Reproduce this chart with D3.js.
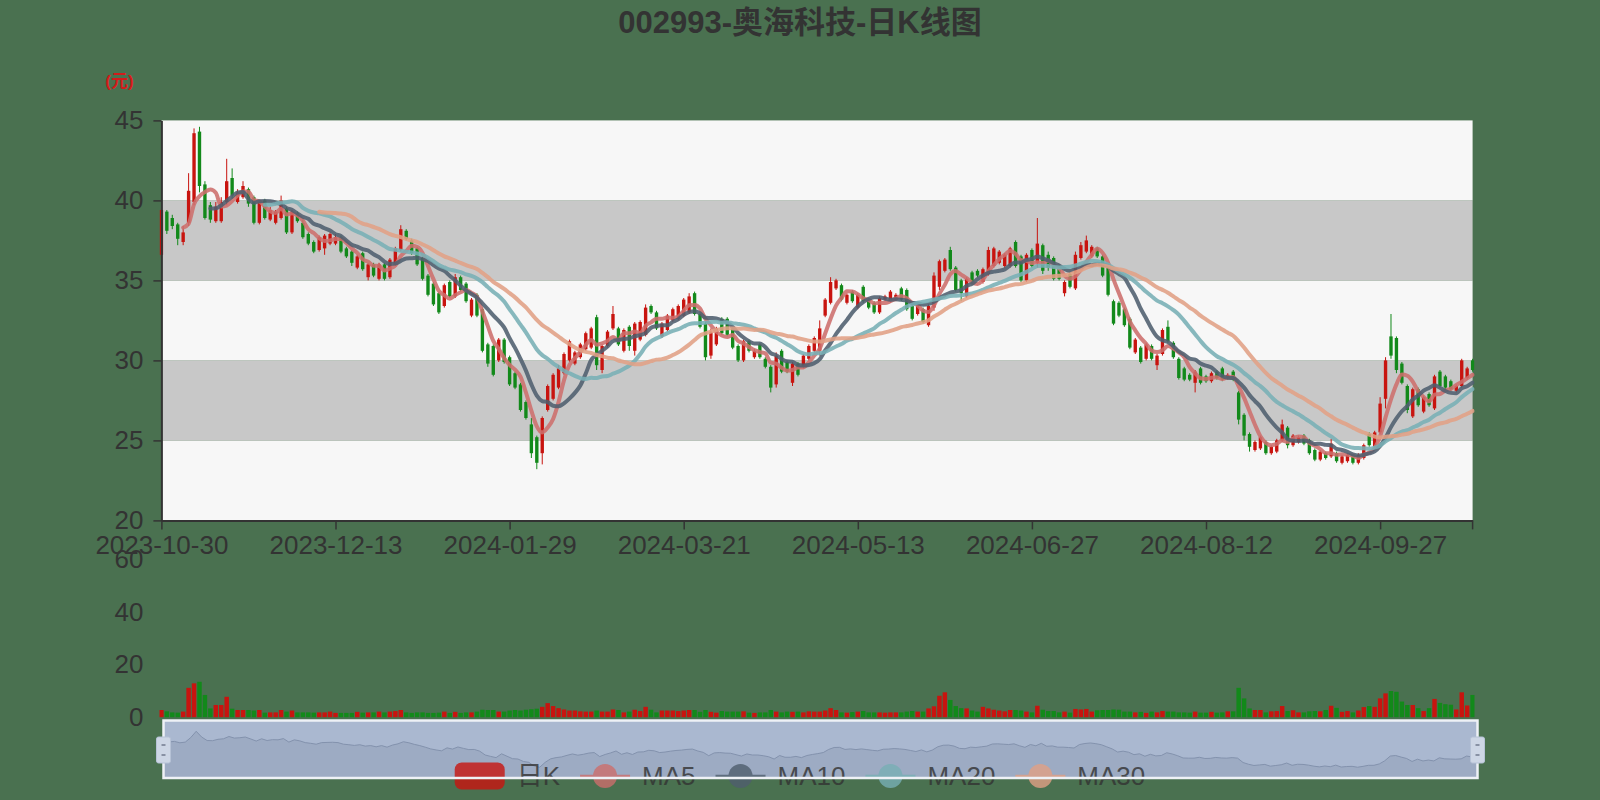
<!DOCTYPE html>
<html><head><meta charset="utf-8">
<script src="https://cdn.jsdelivr.net/npm/d3@7"></script>
<style>html,body{margin:0;padding:0;background:#4a7150}svg{display:block}</style>
</head><body>
<svg id="c" width="1600" height="800"></svg>
<script>
// ---------------- data ----------------
const title = '002993-奥海科技-日K线图';
const yUnit = '(元)';
const legendNames = ['日K', 'MA5', 'MA10', 'MA20', 'MA30'];
const maPeriods = [5, 10, 20, 30];
const priceTicks = [20, 25, 30, 35, 40, 45];
const volTicks = [0, 20, 40, 60];
const xLabelEvery = 32;

const dates = [
'2023-10-30','2023-10-31',
'2023-11-01','2023-11-02','2023-11-03','2023-11-06','2023-11-07','2023-11-08','2023-11-09','2023-11-10','2023-11-13','2023-11-14','2023-11-15','2023-11-16','2023-11-17','2023-11-20','2023-11-21','2023-11-22','2023-11-23','2023-11-24','2023-11-27','2023-11-28','2023-11-29','2023-11-30',
'2023-12-01','2023-12-04','2023-12-05','2023-12-06','2023-12-07','2023-12-08','2023-12-11','2023-12-12','2023-12-13','2023-12-14','2023-12-15','2023-12-18','2023-12-19','2023-12-20','2023-12-21','2023-12-22','2023-12-25','2023-12-26','2023-12-27','2023-12-28','2023-12-29',
'2024-01-02','2024-01-03','2024-01-04','2024-01-05','2024-01-08','2024-01-09','2024-01-10','2024-01-11','2024-01-12','2024-01-15','2024-01-16','2024-01-17','2024-01-18','2024-01-19','2024-01-22','2024-01-23','2024-01-24','2024-01-25','2024-01-26','2024-01-29','2024-01-30','2024-01-31',
'2024-02-01','2024-02-02','2024-02-05','2024-02-06','2024-02-07','2024-02-08','2024-02-19','2024-02-20','2024-02-21','2024-02-22','2024-02-23','2024-02-26','2024-02-27','2024-02-28','2024-02-29',
'2024-03-01','2024-03-04','2024-03-05','2024-03-06','2024-03-07','2024-03-08','2024-03-11','2024-03-12','2024-03-13','2024-03-14','2024-03-15','2024-03-18','2024-03-19','2024-03-20','2024-03-21','2024-03-22','2024-03-25','2024-03-26','2024-03-27','2024-03-28','2024-03-29',
'2024-04-01','2024-04-02','2024-04-03','2024-04-08','2024-04-09','2024-04-10','2024-04-11','2024-04-12','2024-04-15','2024-04-16','2024-04-17','2024-04-18','2024-04-19','2024-04-22','2024-04-23','2024-04-24','2024-04-25','2024-04-26','2024-04-29','2024-04-30',
'2024-05-06','2024-05-07','2024-05-08','2024-05-09','2024-05-10','2024-05-13','2024-05-14','2024-05-15','2024-05-16','2024-05-17','2024-05-20','2024-05-21','2024-05-22','2024-05-23','2024-05-24','2024-05-27','2024-05-28','2024-05-29','2024-05-30','2024-05-31',
'2024-06-03','2024-06-04','2024-06-05','2024-06-06','2024-06-07','2024-06-11','2024-06-12','2024-06-13','2024-06-14','2024-06-17','2024-06-18','2024-06-19','2024-06-20','2024-06-21','2024-06-24','2024-06-25','2024-06-26','2024-06-27','2024-06-28',
'2024-07-01','2024-07-02','2024-07-03','2024-07-04','2024-07-05','2024-07-08','2024-07-09','2024-07-10','2024-07-11','2024-07-12','2024-07-15','2024-07-16','2024-07-17','2024-07-18','2024-07-19','2024-07-22','2024-07-23','2024-07-24','2024-07-25','2024-07-26','2024-07-29','2024-07-30','2024-07-31',
'2024-08-01','2024-08-02','2024-08-05','2024-08-06','2024-08-07','2024-08-08','2024-08-09','2024-08-12','2024-08-13','2024-08-14','2024-08-15','2024-08-16','2024-08-19','2024-08-20','2024-08-21','2024-08-22','2024-08-23','2024-08-26','2024-08-27','2024-08-28','2024-08-29','2024-08-30',
'2024-09-02','2024-09-03','2024-09-04','2024-09-05','2024-09-06','2024-09-09','2024-09-10','2024-09-11','2024-09-12','2024-09-13','2024-09-18','2024-09-19','2024-09-20','2024-09-23','2024-09-24','2024-09-25','2024-09-26','2024-09-27','2024-09-30',
'2024-10-08','2024-10-09','2024-10-10','2024-10-11','2024-10-14','2024-10-15','2024-10-16','2024-10-17','2024-10-18','2024-10-21','2024-10-22','2024-10-23','2024-10-24','2024-10-25','2024-10-28','2024-10-29'
];

const openP = [
36.6,39.3,38.9,38.5,37.4,38.6,39.9,44.3,41.0,39.7,
38.7,38.7,39.9,41.4,39.9,40.2,40.7,40.2,38.6,40.0,
38.8,38.6,38.9,39.5,38.0,39.2,38.6,37.9,37.4,36.9,
37.0,37.3,37.3,37.7,37.0,36.8,35.8,36.7,35.2,36.0,
35.1,36.0,35.2,36.0,36.9,38.1,37.5,37.0,36.4,35.3,
34.8,34.2,33.4,34.9,34.0,35.2,34.8,32.8,34.1,33.2,
31.0,30.9,30.0,31.3,30.2,29.2,28.5,27.4,26.0,25.2,
24.2,26.9,27.6,28.3,29.2,30.0,29.8,30.2,30.7,30.8,
32.7,29.4,30.9,32.0,32.0,30.6,32.1,30.6,31.3,31.6,
33.4,33.0,31.5,31.9,32.5,32.6,32.8,33.0,34.2,32.9,
32.3,30.3,31.0,32.6,32.6,32.0,30.9,30.0,31.2,30.2,
31.0,30.1,29.6,28.5,30.6,29.9,28.6,29.8,29.6,30.1,
30.6,30.6,32.8,33.6,34.5,34.7,33.6,34.3,33.3,34.6,
33.8,33.6,33.0,33.8,33.7,33.8,34.5,34.4,33.4,32.9,
33.2,32.2,33.3,34.6,35.6,36.9,35.8,35.0,34.0,35.5,
35.6,34.9,35.4,35.9,36.1,35.9,35.9,37.4,36.5,35.0,
36.9,36.1,37.2,36.6,36.4,35.9,34.2,35.4,34.5,36.4,
36.8,36.5,37.0,36.5,35.8,33.7,33.6,33.2,32.6,30.5,
30.8,30.1,30.9,29.7,30.4,32.1,31.1,30.1,29.5,29.1,
28.6,29.5,29.0,28.7,29.3,29.5,28.9,29.3,28.0,26.6,
25.4,24.4,24.5,24.9,24.2,24.3,25.0,25.8,24.7,24.9,
25.3,25.0,24.4,23.8,24.2,24.0,24.2,23.6,23.7,24.0,
23.6,23.9,25.4,24.6,25.5,27.6,31.5,31.4,29.8,28.4,
26.5,28.2,26.8,27.9,27.0,29.3,29.0,28.7,28.1,28.4,
28.9,30.0
];

const closeP = [
39.4,38.1,38.4,37.6,38.0,40.6,44.2,40.9,38.9,38.8,
39.6,39.9,41.2,40.3,40.5,40.9,39.8,38.6,39.9,38.9,
39.4,39.3,40.0,38.0,39.3,38.7,37.7,37.3,36.8,37.7,
37.8,37.9,37.7,36.8,36.5,36.1,36.5,35.7,36.0,35.3,
36.0,35.1,36.3,37.0,38.2,37.6,36.7,36.0,35.1,34.1,
33.5,33.0,34.7,34.0,35.2,34.4,33.7,33.8,32.8,30.6,
29.8,29.1,31.3,29.9,28.5,28.3,26.9,26.4,24.2,23.6,
26.4,28.4,29.1,29.5,30.4,31.2,30.5,31.0,31.7,32.0,
29.7,30.9,31.8,32.9,31.0,31.9,30.9,32.3,32.4,33.3,
33.0,32.0,32.3,32.8,33.2,33.4,33.8,34.0,32.9,32.1,
30.2,31.8,32.0,31.7,31.6,30.8,30.0,31.2,30.6,30.6,
30.2,29.6,28.3,30.3,29.3,29.3,29.8,29.1,30.3,30.9,
31.4,32.0,33.8,34.9,35.0,33.8,34.1,33.7,34.1,33.7,
33.3,33.0,33.9,34.0,34.3,34.1,33.8,33.2,32.6,33.5,
32.4,33.4,35.3,36.2,36.3,35.7,34.4,34.2,35.1,34.9,
35.3,35.7,36.9,37.0,36.8,36.6,37.0,35.9,35.0,36.6,
35.9,37.3,35.6,35.8,35.1,35.1,34.9,34.6,36.6,37.2,
37.5,37.1,36.5,35.3,34.1,32.3,32.8,32.2,30.8,31.3,
29.9,31.0,30.1,30.3,31.9,31.2,30.2,28.9,28.8,28.8,
29.3,28.6,28.7,29.2,28.9,28.8,29.1,28.8,26.3,25.3,
24.6,24.9,25.2,24.2,24.6,25.0,26.0,24.7,25.3,25.2,
24.8,24.2,23.8,24.3,23.9,24.8,23.7,24.0,24.1,23.6,
24.1,24.7,24.7,25.5,27.3,30.0,30.3,29.4,28.6,26.9,
28.2,27.2,27.7,27.2,29.0,28.4,28.3,28.2,28.4,30.0,
29.5,29.4
];

const highP = [
39.5,39.4,39.1,38.6,38.4,41.7,44.5,44.6,41.2,39.9,
39.9,40.2,42.6,42.0,40.7,41.2,40.8,40.3,40.0,40.1,
39.6,39.4,40.3,39.6,39.4,39.3,38.8,38.0,37.5,37.8,
37.9,38.0,37.9,37.8,37.1,36.9,36.6,36.8,36.1,36.1,
36.1,36.1,36.4,37.1,38.45,38.2,37.6,37.1,36.5,35.4,
34.9,34.3,34.8,35.0,35.4,35.3,34.9,33.9,34.2,33.3,
31.1,31.0,31.4,31.4,30.3,29.3,28.6,27.5,26.4,25.3,
26.5,28.5,29.2,29.7,30.5,31.3,30.6,31.1,31.8,32.1,
32.85,31.0,31.9,33.4,32.1,32.0,32.2,32.4,32.5,33.5,
33.5,33.1,32.4,32.9,33.3,33.5,33.9,34.2,34.3,33.0,
32.4,32.0,32.1,32.7,32.7,32.1,31.0,31.3,31.3,30.7,
31.1,30.2,29.7,30.5,30.7,30.0,29.9,29.9,30.4,31.0,
31.5,32.5,33.9,35.2,35.1,34.8,34.2,34.4,34.2,34.7,
33.9,33.7,34.0,34.1,34.4,34.2,34.6,34.5,33.5,33.6,
33.3,33.5,35.5,36.3,36.4,37.1,35.9,35.1,35.2,35.6,
35.7,35.8,37.1,37.1,36.9,36.7,37.1,37.5,36.6,36.7,
37.0,38.9,37.3,36.8,36.5,36.0,35.0,35.5,36.8,37.4,
37.8,37.2,37.1,36.6,35.9,33.8,33.7,33.3,32.7,31.4,
30.9,31.1,31.0,30.4,32.0,32.5,31.2,30.2,29.6,29.2,
29.4,29.6,29.1,29.3,29.4,29.6,29.2,29.4,28.1,26.7,
25.5,25.0,25.3,25.0,24.7,25.1,26.3,25.9,25.4,25.3,
25.4,25.1,24.5,24.4,24.3,25.1,24.3,24.1,24.2,24.1,
24.2,24.8,25.5,25.6,27.7,30.2,32.9,31.5,29.9,28.5,
28.3,28.3,27.8,28.0,29.1,29.4,29.1,28.8,28.5,30.1,
29.6,30.1
];

const lowP = [
36.4,37.9,38.2,37.2,37.2,38.4,39.7,40.5,38.8,38.6,
38.6,38.6,39.7,40.1,39.8,40.1,39.6,38.5,38.5,38.8,
38.7,38.5,38.8,37.9,37.9,38.6,37.6,37.2,36.7,36.8,
36.6,37.2,37.2,36.7,36.4,35.9,35.7,35.6,35.0,35.2,
35.0,35.0,35.1,35.9,36.8,37.5,36.6,35.9,35.0,34.0,
33.4,32.9,33.3,33.9,33.9,34.3,33.6,32.7,32.7,30.5,
29.6,29.0,29.9,29.8,28.4,28.2,26.8,26.3,23.9,23.2,
23.5,26.8,27.5,28.2,29.1,29.9,29.7,30.1,30.6,30.7,
29.4,29.2,30.8,31.9,30.9,30.5,30.6,30.3,31.2,31.5,
32.9,31.9,31.4,31.8,32.4,32.5,32.7,32.9,32.8,32.0,
30.0,30.1,30.9,31.6,31.5,30.7,29.9,29.9,30.5,30.1,
30.1,29.5,28.0,28.3,29.2,29.2,28.4,29.0,29.5,30.0,
30.5,30.3,32.7,33.5,34.4,33.7,33.5,33.6,33.2,33.6,
33.2,32.9,32.9,33.7,33.6,33.7,33.7,33.1,32.5,32.8,
32.3,32.1,33.1,34.4,35.5,35.6,34.3,33.7,33.9,34.8,
35.2,34.8,35.3,35.8,36.0,35.8,35.8,35.8,34.9,34.9,
35.8,35.8,35.4,35.6,35.0,35.0,34.0,34.5,34.4,36.3,
36.7,36.4,36.4,35.2,34.0,32.2,32.7,32.1,30.7,30.4,
29.8,30.0,30.0,29.4,30.3,31.1,30.1,28.8,28.7,28.7,
28.0,28.5,28.6,28.6,28.8,28.7,28.8,28.7,26.0,25.0,
24.3,24.3,24.4,24.1,24.1,24.2,24.9,24.5,24.6,24.8,
24.7,24.1,23.7,23.7,23.8,23.9,23.6,23.5,23.6,23.5,
23.5,23.8,24.6,24.5,25.4,27.0,30.1,29.2,28.5,26.7,
26.4,27.1,26.7,27.1,26.9,28.3,28.2,28.1,28.0,28.3,
28.8,29.3
];

const volume = [
2.8,2.3,1.9,1.8,2.2,11.2,12.9,13.5,8.5,3.4,
4.7,4.7,7.8,3.3,2.8,2.8,2.8,2.6,2.8,1.8,
1.9,1.9,2.8,2.2,2.6,1.9,1.9,1.9,1.8,1.9,
1.9,2.2,1.7,1.7,1.7,1.7,2.1,1.8,1.9,1.9,
2.2,1.9,2.2,2.4,2.8,1.9,1.7,1.9,1.9,1.7,
1.7,1.8,2.2,1.7,2.1,1.7,1.9,1.9,2.2,2.9,
2.8,2.8,2.2,2.2,2.6,2.8,2.6,2.9,3.1,3.3,
4.0,5.4,4.3,3.5,3.0,2.6,2.6,2.3,2.2,2.2,
2.6,2.2,2.2,3.0,2.8,1.9,2.2,2.9,2.4,4.0,
2.9,1.9,2.6,2.6,2.6,2.4,2.6,2.8,2.8,2.1,
2.8,2.1,1.8,2.4,2.2,2.2,2.2,2.3,1.8,1.7,
1.9,1.9,2.8,2.2,1.9,2.2,2.1,2.2,1.9,2.3,
2.2,2.2,2.6,3.5,2.8,1.9,1.8,2.0,2.2,2.4,
1.9,1.9,1.9,1.8,1.9,1.9,1.9,2.2,2.4,2.2,
2.2,3.4,4.2,8.2,9.5,6.6,4.3,3.5,3.4,2.6,
2.2,4.0,3.4,2.9,2.6,2.3,2.8,2.8,2.6,2.2,
1.9,4.4,2.9,2.4,2.4,1.9,2.2,1.8,3.2,3.0,
3.2,2.2,2.7,2.8,2.8,3.0,2.9,2.2,2.2,1.9,
2.1,1.7,2.2,1.9,2.4,2.2,2.2,1.9,1.9,1.8,
2.2,1.8,1.8,2.1,1.8,1.9,2.3,2.3,11.2,7.2,
3.4,2.8,2.8,1.9,2.3,2.4,4.3,2.4,2.7,1.9,
1.9,2.3,2.4,2.3,2.8,4.4,3.6,2.1,2.4,1.9,
2.6,3.9,4.3,4.0,7.2,9.1,10.0,9.7,6.0,4.7,
4.7,3.5,2.4,3.5,7.0,5.5,5.0,4.8,3.0,9.5,
4.5,8.5
];

// ---------------- styles / layout ----------------
const FONT = '"Liberation Sans","Noto Sans CJK SC",sans-serif';
const BG = '#4a7150';
const UP = '#c8140f', DOWN = '#12891a';
const MA_COLORS = ['#cd6e6c', '#4f5e6e', '#78afb5', '#e1a085'];
const TXT = '#333333';
const grid = {l: 161.4, r: 1472.6, t: 120.4, b: 520.4};
const vgrid = {t: 559, b: 717.4};
const slider = {l: 163.5, r: 1477.5, t: 720.5, b: 778};

const N = dates.length;
[openP, closeP, highP, lowP, volume].forEach((a, k) => {
  if (a.length !== N) throw new Error('array ' + k + ' length ' + a.length + ' != ' + N);
});

const svg = d3.select('#c');
svg.append('rect').attr('width', 1600).attr('height', 800).attr('fill', BG);

const x = d3.scalePoint().domain(dates).range([grid.l, grid.r]);
const step = x.step();
const y = d3.scaleLinear().domain([d3.min(priceTicks), d3.max(priceTicks)]).range([grid.b, grid.t]);
const yv = d3.scaleLinear().domain([d3.min(volTicks), d3.max(volTicks)]).range([vgrid.b, vgrid.t]);

const defs = svg.append('defs');
defs.append('clipPath').attr('id', 'clipMain').append('rect')
  .attr('x', grid.l - 2).attr('y', grid.t).attr('width', grid.r - grid.l + 4).attr('height', grid.b - grid.t);
defs.append('clipPath').attr('id', 'clipVol').append('rect')
  .attr('x', grid.l - 2).attr('y', vgrid.t - 20).attr('width', grid.r - grid.l + 4).attr('height', vgrid.b - vgrid.t + 20);

// title
svg.append('text').attr('x', 800).attr('y', 33).attr('text-anchor', 'middle')
  .attr('font-family', FONT).attr('font-size', 31).attr('font-weight', 'bold').attr('fill', TXT).text(title);

// split areas
const bands = d3.pairs(priceTicks);
svg.append('g').selectAll('rect').data(bands).join('rect')
  .attr('x', grid.l).attr('width', grid.r - grid.l)
  .attr('y', d => y(d[1])).attr('height', d => y(d[0]) - y(d[1]))
  .attr('fill', (d, k) => k % 2 ? '#c8c8c8' : '#f7f7f7');

// candles
const idx = d3.range(N);
const isUp = i => closeP[i] >= openP[i];
const cg = svg.append('g').attr('clip-path', 'url(#clipMain)');
cg.selectAll('line.wick').data(idx).join('line').attr('class', 'wick')
  .attr('x1', i => x(dates[i])).attr('x2', i => x(dates[i]))
  .attr('y1', i => y(highP[i])).attr('y2', i => y(lowP[i]))
  .attr('stroke', i => isUp(i) ? UP : DOWN).attr('stroke-width', 1);
const bw = step * 0.62;
cg.selectAll('rect.body').data(idx).join('rect').attr('class', 'body')
  .attr('x', i => x(dates[i]) - bw / 2).attr('width', bw)
  .attr('y', i => y(Math.max(openP[i], closeP[i])))
  .attr('height', i => Math.max(1, y(Math.min(openP[i], closeP[i])) - y(Math.max(openP[i], closeP[i]))))
  .attr('fill', i => isUp(i) ? UP : DOWN);

// moving averages
function movingAvg(n) {
  return closeP.map((c, i) => i < n - 1 ? null : d3.mean(closeP.slice(i - n + 1, i + 1)));
}
const maSeries = maPeriods.map(movingAvg);
const lineGen = d3.line().defined(d => d.v != null).x(d => x(dates[d.i])).y(d => y(d.v)).curve(d3.curveMonotoneX);
maSeries.forEach((s, k) => {
  cg.append('path').datum(s.map((v, i) => ({i, v})))
    .attr('d', lineGen).attr('fill', 'none').attr('stroke', MA_COLORS[k])
    .attr('stroke-width', 4).attr('stroke-opacity', 0.88).attr('stroke-linejoin', 'round').attr('stroke-linecap', 'round');
});

// price axes
const gY = svg.append('g').attr('transform', `translate(${grid.l},0)`)
  .call(d3.axisLeft(y).tickValues(priceTicks).tickSize(8).tickSizeOuter(0).tickPadding(10));
gY.select('.domain').attr('stroke', TXT).attr('stroke-width', 2);
gY.selectAll('.tick line').attr('stroke', TXT).attr('stroke-width', 1.5);
gY.selectAll('.tick text').attr('font-family', FONT).attr('font-size', 26).attr('fill', TXT);

svg.append('text').attr('x', 119.5).attr('y', 87).attr('text-anchor', 'middle')
  .attr('font-family', FONT).attr('font-size', 17).attr('font-weight', 'bold').attr('fill', '#d41a1a').text(yUnit);

const labelDates = dates.filter((d, i) => i % xLabelEvery === 0);
const gX = svg.append('g').attr('transform', `translate(0,${grid.b})`)
  .call(d3.axisBottom(x).tickValues(labelDates).tickSize(9).tickSizeOuter(0).tickPadding(6));
gX.select('.domain').attr('stroke', TXT).attr('stroke-width', 2);
gX.selectAll('.tick line').attr('stroke', TXT).attr('stroke-width', 1.5);
gX.selectAll('.tick text').attr('font-family', FONT).attr('font-size', 26).attr('fill', TXT);
gX.append('line').attr('x1', x(dates[N - 1])).attr('x2', x(dates[N - 1])).attr('y1', 0).attr('y2', 9)
  .attr('stroke', TXT).attr('stroke-width', 1.5);

// volume
const vbw = step * 0.82;
svg.append('g').attr('clip-path', 'url(#clipVol)').selectAll('rect').data(idx).join('rect')
  .attr('x', i => x(dates[i]) - vbw / 2).attr('width', vbw)
  .attr('y', i => yv(volume[i])).attr('height', i => yv(0) - yv(volume[i]))
  .attr('fill', i => isUp(i) ? UP : DOWN);
const gV = svg.append('g').attr('transform', `translate(${grid.l},0)`)
  .call(d3.axisLeft(yv).tickValues(volTicks).tickSize(0).tickPadding(18));
gV.select('.domain').remove();
gV.selectAll('.tick text').attr('font-family', FONT).attr('font-size', 26).attr('fill', TXT);

// data zoom slider (background + shadow)
svg.append('rect').attr('x', slider.l).attr('y', slider.t).attr('width', slider.r - slider.l).attr('height', slider.b - slider.t)
  .attr('fill', '#aab8d0');
const ext = d3.extent(closeP);
const pad = (ext[1] - ext[0]) * 0.3;
const xs = d3.scaleLinear().domain([0, N - 1]).range([slider.l, slider.r]);
const ys = d3.scaleLinear().domain([ext[0] - pad, ext[1] + pad]).range([slider.b, slider.t]);
svg.append('path').datum(idx)
  .attr('d', d3.area().x(i => xs(i)).y0(slider.b).y1(i => ys(closeP[i])))
  .attr('fill', '#9dabc3');
svg.append('path').datum(idx)
  .attr('d', d3.line().x(i => xs(i)).y(i => ys(closeP[i])))
  .attr('fill', 'none').attr('stroke', '#8392ad').attr('stroke-width', 1);

// legend
const lg = svg.append('g').attr('opacity', 0.8);
const iconW = 50, iconH = 27, gapIT = 12, itemGap = 20, ly = 776;
const measure = lg.append('text').attr('font-family', FONT).attr('font-size', 26);
const widths = legendNames.map(n => { measure.text(n); return measure.node().getComputedTextLength(); });
measure.remove();
const total = d3.sum(widths) + legendNames.length * (iconW + gapIT) + (legendNames.length - 1) * itemGap;
let lx = 800 - total / 2;
legendNames.forEach((name, k) => {
  const col = k === 0 ? UP : MA_COLORS[k - 1];
  if (k === 0) {
    lg.append('rect').attr('x', lx).attr('y', ly - iconH / 2).attr('width', iconW).attr('height', iconH)
      .attr('rx', 7).attr('fill', col);
  } else {
    lg.append('line').attr('x1', lx).attr('x2', lx + iconW).attr('y1', ly).attr('y2', ly)
      .attr('stroke', col).attr('stroke-width', 2.5);
    lg.append('circle').attr('cx', lx + iconW / 2).attr('cy', ly).attr('r', 12).attr('fill', col);
  }
  lg.append('text').attr('x', lx + iconW + gapIT).attr('y', ly).attr('dy', '0.35em')
    .attr('font-family', FONT).attr('font-size', 26).attr('fill', TXT).text(name);
  lx += iconW + gapIT + widths[k] + itemGap;
});

// slider border and handles on top
svg.append('rect').attr('x', slider.l).attr('y', slider.t).attr('width', slider.r - slider.l).attr('height', slider.b - slider.t)
  .attr('fill', 'none').attr('stroke', '#eef1f6').attr('stroke-width', 2.5);
[slider.l, slider.r].forEach(hx => {
  const hg = svg.append('g');
  hg.append('rect').attr('x', hx - 7).attr('y', 737).attr('width', 14).attr('height', 26).attr('rx', 2)
    .attr('fill', '#cdd6e5').attr('stroke', '#b6c2d6').attr('stroke-width', 1);
  [745, 755].forEach(yy => hg.append('line').attr('x1', hx - 2).attr('x2', hx + 2).attr('y1', yy).attr('y2', yy)
    .attr('stroke', '#5a6477').attr('stroke-width', 1.2));
});
</script>
</body></html>
